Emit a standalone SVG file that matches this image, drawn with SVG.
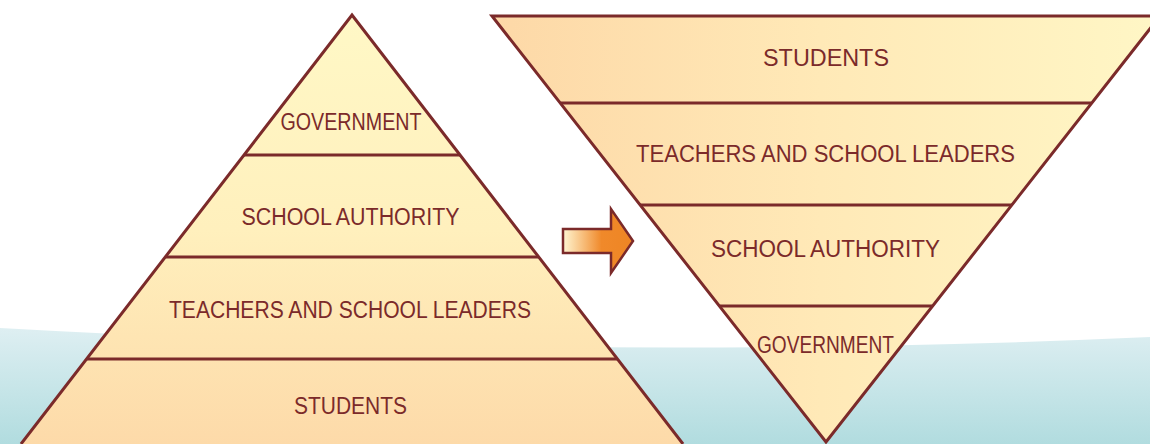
<svg xmlns="http://www.w3.org/2000/svg" width="1150" height="444" viewBox="0 0 1150 444">
  <style>
    .edge { fill: none; stroke: #7b2a2a; stroke-width: 3; stroke-linejoin: miter; }
    .band { stroke: #7b2a2a; stroke-width: 3; }
    .lbl { font-family: "Liberation Sans", Arial, sans-serif; font-size: 23px; fill: #7b2a2a; }
  </style>
  <defs>
    <linearGradient id="sea" x1="0" y1="328" x2="0" y2="444" gradientUnits="userSpaceOnUse">
      <stop offset="0" stop-color="#deeff2"/>
      <stop offset="1" stop-color="#b1dcdf"/>
    </linearGradient>
    <linearGradient id="pyrFill" x1="0" y1="15" x2="0" y2="444" gradientUnits="userSpaceOnUse">
      <stop offset="0" stop-color="#fff8c6"/>
      <stop offset="0.5" stop-color="#fff0bd"/>
      <stop offset="1" stop-color="#fddaa9"/>
    </linearGradient>
    <linearGradient id="invFill" x1="492" y1="0" x2="1150" y2="0" gradientUnits="userSpaceOnUse">
      <stop offset="0" stop-color="#fdd8a7"/>
      <stop offset="0.5" stop-color="#ffe9b7"/>
      <stop offset="1" stop-color="#fff6c5"/>
    </linearGradient>
    <linearGradient id="arrowFill" x1="563" y1="0" x2="633" y2="0" gradientUnits="userSpaceOnUse">
      <stop offset="0" stop-color="#fff6d2"/>
      <stop offset="0.55" stop-color="#f0892a"/>
      <stop offset="1" stop-color="#ee8524"/>
    </linearGradient>
  </defs>

  <!-- background wave -->
  <path d="M0,328 Q600,362 1150,337 L1150,444 L0,444 Z" fill="url(#sea)"/>

  <!-- upright pyramid -->
  <g id="pyramid">
    <path d="M352,15 L683,444 L21,444 Z" fill="url(#pyrFill)"/>
    <g id="pyr-government">
      <text class="lbl" x="351" y="130" text-anchor="middle" textLength="141" lengthAdjust="spacingAndGlyphs">GOVERNMENT</text>
    </g>
    <g id="pyr-school-authority">
      <line class="band" x1="244" y1="155" x2="460" y2="155"/>
      <text class="lbl" x="350.5" y="225" text-anchor="middle" textLength="218" lengthAdjust="spacingAndGlyphs">SCHOOL AUTHORITY</text>
    </g>
    <g id="pyr-teachers">
      <line class="band" x1="166" y1="257" x2="538" y2="257"/>
      <text class="lbl" x="350" y="318" text-anchor="middle" textLength="362" lengthAdjust="spacingAndGlyphs">TEACHERS AND SCHOOL LEADERS</text>
    </g>
    <g id="pyr-students">
      <line class="band" x1="87" y1="359" x2="617" y2="359"/>
      <text class="lbl" x="350.5" y="414" text-anchor="middle" textLength="113" lengthAdjust="spacingAndGlyphs">STUDENTS</text>
    </g>
    <path class="edge" d="M21,444 L352,15 L683,444"/>
  </g>

  <!-- inverted pyramid -->
  <g id="inverted">
    <path d="M492,16 L1160,16 L826,442 Z" fill="url(#invFill)"/>
    <g id="inv-students">
      <text class="lbl" x="826" y="66" text-anchor="middle" textLength="126" lengthAdjust="spacingAndGlyphs">STUDENTS</text>
    </g>
    <g id="inv-teachers">
      <line class="band" x1="561" y1="103" x2="1091" y2="103"/>
      <text class="lbl" x="825.5" y="162" text-anchor="middle" textLength="379" lengthAdjust="spacingAndGlyphs">TEACHERS AND SCHOOL LEADERS</text>
    </g>
    <g id="inv-school-authority">
      <line class="band" x1="640" y1="205" x2="1012" y2="205"/>
      <text class="lbl" x="825.5" y="257" text-anchor="middle" textLength="229" lengthAdjust="spacingAndGlyphs">SCHOOL AUTHORITY</text>
    </g>
    <g id="inv-government">
      <line class="band" x1="720" y1="306" x2="932" y2="306"/>
      <text class="lbl" x="825.5" y="353" text-anchor="middle" textLength="137" lengthAdjust="spacingAndGlyphs">GOVERNMENT</text>
    </g>
    <path class="edge" d="M1160,16 L492,16 L826,442 L1160,16"/>
  </g>

  <!-- transition arrow -->
  <g id="connectors">
    <path d="M563,229 L611,229 L611,209 L633,241 L611,273 L611,253 L563,253 Z" fill="url(#arrowFill)" stroke="#7b2a2a" stroke-width="2.5" stroke-linejoin="miter"/>
  </g>
</svg>
